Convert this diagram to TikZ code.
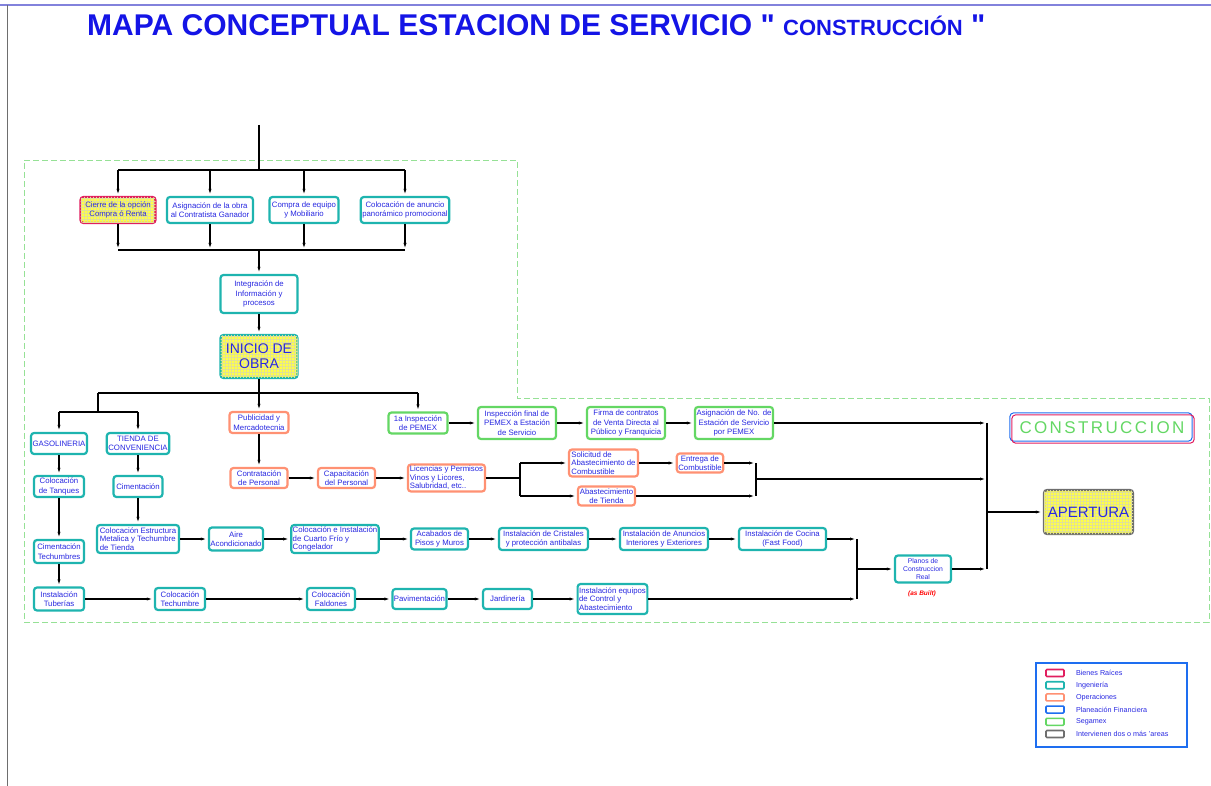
\documentclass[tikz,border=0pt]{standalone}
\usepackage{fontspec}
\setmainfont{Liberation Sans}
\newfontfamily\espaciada[LetterSpace=14]{Liberation Sans}
\newfontfamily\titular[Ligatures=TeXOff]{Liberation Sans}
\usetikzlibrary{positioning, arrows.meta, patterns}
\definecolor{ingcol}{RGB}{30,180,175}
\definecolor{biencol}{RGB}{225,30,95}
\definecolor{opcol}{RGB}{255,145,115}
\definecolor{plancol}{RGB}{30,110,240}
\definecolor{segcol}{RGB}{100,215,100}
\definecolor{doscol}{RGB}{110,110,110}
\definecolor{txtcol}{RGB}{40,40,225}
\definecolor{obracol}{RGB}{255,255,70}
\definecolor{gridcol}{RGB}{225,225,150}
\definecolor{zonacol}{RGB}{150,225,150}
\definecolor{titcol}{RGB}{20,20,230}
\definecolor{marcocol}{RGB}{130,130,220}
\tikzset{
  caja/.style={draw, rounded corners=3pt, line width=2.2pt, fill=white, text=txtcol,
    align=center, inner sep=1.5pt, font=\fontsize{7.8}{9.5}\selectfont},
  ing/.style={caja, draw=ingcol},
  bien/.style={caja, draw=biencol},
  oper/.style={caja, draw=opcol},
  seg/.style={caja, draw=segcol},
  obra/.style={fill=obracol, postaction={pattern=grid, pattern color=gridcol}},
  flecha/.style={-{Latex[length=7pt,width=3pt]}, line width=1.3pt},
  linea/.style={line width=1.3pt},
  zona/.style={draw=zonacol, dash pattern=on 6pt off 3pt, line width=0.8pt},
  muestra/.style={draw, line width=1.6pt, rounded corners=1pt, minimum width=18, minimum height=7, inner sep=0pt},
  leyenda/.style={text=txtcol, anchor=west, inner sep=0pt, font=\fontsize{7.2}{8}\selectfont},
}
\begin{document}
\begin{tikzpicture}[x=1pt, y=-1pt]
  \useasboundingbox (0,0) rectangle (1211,786);
  % marco y zona
  \draw[line width=2pt, marcocol] (0,5) -- (1211,5);
  \draw[line width=0.8pt, doscol] (7,5) -- (7,786);
  \draw[zona] (24,160) -- (517,160) -- (517,398) -- (1209,398) -- (1209,622) -- (24,622) -- cycle;

  \node[anchor=base west, text=titcol, inner sep=0pt, font=\titular\fontsize{30}{32}\bfseries] (titulo) at (87,36)
    {MAPA CONCEPTUAL ESTACION DE SERVICIO " {\fontsize{22}{24}\selectfont CONSTRUCCIÓN} "};

  % fila superior
  \node[bien, obra, minimum width=75, minimum height=26] (cierre) at (118,210) {Cierre de la opción\\Compra ó Renta};
  \node[ing, minimum width=86, minimum height=26] (asigobra) at (210,210) {Asignación de la obra\\al Contratista Ganador};
  \node[ing, minimum width=69, minimum height=26] (compra) at (304,210) {Compra de equipo\\y Mobiliario};
  \node[ing, minimum width=88, minimum height=26] (anuncio) at (405,210) {Colocación de anuncio\\panorámico promocional};

  \node[ing, minimum width=77, minimum height=38] (integ) at (259,294) {Integración de\\Información y\\procesos};
  \node[ing, obra, minimum width=77, minimum height=43, font=\fontsize{14}{15}\selectfont] (inicio) at (259,356.5) {INICIO DE\\OBRA};

  % gasolineria y tienda
  \node[ing, minimum width=55, minimum height=21] (gaso) at (59,443.5) {GASOLINERIA};
  \node[ing, minimum width=56, minimum height=21] (tienda) at (138,443.5) {TIENDA DE\\CONVENIENCIA};
  \node[ing, minimum width=50, minimum height=21] (tanques) at (59,486.5) {Colocación\\de Tanques};
  \node[ing, minimum width=49, minimum height=21] (ciment) at (138,486.5) {Cimentación};
  \node[ing, minimum width=50, minimum height=23] (cimtech) at (59,551.5) {Cimentación\\Techumbres};
  \node[ing, minimum width=82, minimum height=28, align=left, font=\fontsize{7.8}{8.5}\selectfont] (estruct) at (138,539) {Colocación Estructura\\Metalica y Techumbre\\de Tienda};
  \node[ing, minimum width=50, minimum height=23] (aire) at (236,539) {Aire\\Acondicionado};
  \node[ing, minimum width=86, minimum height=28, align=left, font=\fontsize{7.8}{8.5}\selectfont] (cuarto) at (335,539) {Colocación e Instalación\\de Cuarto Frío y\\Congelador};
  \node[ing, minimum width=57, minimum height=21] (acabados) at (439.5,539) {Acabados de\\Pisos y Muros};
  \node[ing, minimum width=89, minimum height=22] (cristales) at (543.5,539) {Instalación de Cristales\\y protección antibalas};
  \node[ing, minimum width=88, minimum height=22] (anuncios) at (664,539) {Instalación de Anuncios\\Interiores y Exteriores};
  \node[ing, minimum width=87, minimum height=22] (cocina) at (782.5,539) {Instalación de Cocina\\(Fast Food)};

  % fila inferior
  \node[ing, minimum width=50, minimum height=23] (tuberias) at (59,599) {Instalación\\Tuberías};
  \node[ing, minimum width=50, minimum height=22] (techumbre) at (180,599) {Colocación\\Techumbre};
  \node[ing, minimum width=48, minimum height=22] (faldones) at (331,599) {Colocación\\Faldones};
  \node[ing, minimum width=51, minimum height=20] (pavim) at (419.5,599) {Pavimentación};
  \node[ing, minimum width=49, minimum height=20] (jardin) at (507.5,599) {Jardinería};
  \node[ing, minimum width=69, minimum height=30, align=left, font=\fontsize{7.8}{8.5}\selectfont] (equipos) at (612.5,599) {Instalación equipos\\de Control y\\Abastecimiento};

  % operaciones
  \node[oper, minimum width=59, minimum height=21] (publi) at (259,422.5) {Publicidad y\\Mercadotecnia};
  \node[oper, minimum width=57, minimum height=20] (contrat) at (259,478) {Contratación\\de Personal};
  \node[oper, minimum width=57, minimum height=20] (capacit) at (346.5,478) {Capacitación\\del Personal};
  \node[oper, minimum width=77, minimum height=27, align=left, font=\fontsize{7.8}{8.5}\selectfont] (licencias) at (446.5,478) {Licencias y Permisos\\Vinos y Licores,\\Salubridad, etc..};
  \node[oper, minimum width=69, minimum height=27, align=left, font=\fontsize{7.8}{8.5}\selectfont] (solicitud) at (603.5,463) {Solicitud de\\Abastecimiento de\\Combustible};
  \node[oper, minimum width=46, minimum height=19] (entrega) at (700,463) {Entrega de\\Combustible};
  \node[oper, minimum width=57, minimum height=19] (abast) at (606.5,496) {Abastecimiento\\de Tienda};

  % segamex
  \node[seg, minimum width=59, minimum height=21] (insp1) at (418,423) {1a Inspección\\de PEMEX};
  \node[seg, minimum width=78, minimum height=32] (inspf) at (517,423) {Inspección final de\\PEMEX a Estación\\de Servicio};
  \node[seg, minimum width=78, minimum height=32] (firma) at (626,423) {Firma de contratos\\de Venta Directa al\\Público y Franquicia};
  \node[seg, minimum width=78, minimum height=32] (asigpemex) at (734,423) {Asignación de No. de\\Estación de Servicio\\por PEMEX};

  \node[ing, minimum width=56, minimum height=27, font=\fontsize{6.8}{8}\selectfont] (planos) at (923,569) {Planos de\\Construccion\\Real};
  \node[text=red, inner sep=0pt, font=\fontsize{6.5}{7}\bfseries\itshape] (asbuilt) at (922,594) {(as Built)};
  \node[caja, draw=doscol, obra, minimum width=89, minimum height=44, font=\fontsize{15}{16}\selectfont] (apertura) at (1088.5,512) {APERTURA};

  % etiqueta
  \node[minimum width=182, minimum height=28, inner sep=0pt, text=segcol, font=\espaciada\fontsize{17}{18}\selectfont] (etiqueta) at (1102,428) {CONSTRUCCION};
  \draw[plancol, line width=1pt, rounded corners=4pt] ([shift={(-1pt,1pt)}]etiqueta.north west) rectangle ([shift={(-1pt,1pt)}]etiqueta.south east);
  \draw[biencol, line width=1pt, rounded corners=4pt] ([shift={(1pt,-1pt)}]etiqueta.north west) rectangle ([shift={(1pt,-1pt)}]etiqueta.south east);

  % conectores superiores
  \coordinate (entrada) at (259,125);
  \coordinate (reparte) at (259,170);
  \coordinate (junta) at (259,250);
  \draw[linea] (entrada) -- (reparte);
  \draw[linea] (cierre.north |- reparte) -- (anuncio.north |- reparte);
  \draw[linea] (cierre.south |- junta) -- (anuncio.south |- junta);
  \foreach \nodo in {cierre, asigobra, compra, anuncio} {
    \draw[flecha] (\nodo.north |- reparte) -- (\nodo.north);
    \draw[flecha] (\nodo.south) -- (\nodo.south |- junta);
  }
  \draw[flecha] (junta) -- (integ.north);
  \draw[flecha] (integ) -- (inicio);

  \coordinate (ramal) at (259,393);
  \coordinate (ramalL) at (98,393);
  \coordinate (sub) at (98,412);
  \draw[linea] (inicio.south) -- (ramal);
  \draw[linea] (ramalL) -- (insp1.north |- ramal);
  \draw[linea] (ramalL) -- (sub);
  \draw[linea] (gaso.north |- sub) -- (tienda.north |- sub);
  \draw[flecha] (gaso.north |- sub) -- (gaso.north);
  \draw[flecha] (tienda.north |- sub) -- (tienda.north);
  \draw[flecha] (publi.north |- ramal) -- (publi.north);
  \draw[flecha] (insp1.north |- ramal) -- (insp1.north);

  % cadenas
  \draw[flecha] (gaso) -- (tanques);
  \draw[flecha] (tanques) -- (cimtech);
  \draw[flecha] (cimtech) -- (tuberias);
  \draw[flecha] (tienda) -- (ciment);
  \draw[flecha] (ciment) -- (estruct);
  \draw[flecha] (estruct) -- (aire);
  \draw[flecha] (aire) -- (cuarto);
  \draw[flecha] (cuarto) -- (acabados);
  \draw[flecha] (acabados) -- (cristales);
  \draw[flecha] (cristales) -- (anuncios);
  \draw[flecha] (anuncios) -- (cocina);
  \draw[flecha] (tuberias) -- (techumbre);
  \draw[flecha] (techumbre) -- (faldones);
  \draw[flecha] (faldones) -- (pavim);
  \draw[flecha] (pavim) -- (jardin);
  \draw[flecha] (jardin) -- (equipos);
  \draw[flecha] (publi) -- (contrat);
  \draw[flecha] (contrat) -- (capacit);
  \draw[flecha] (capacit) -- (licencias);
  \draw[flecha] (solicitud) -- (entrega);
  \draw[flecha] (insp1) -- (inspf);
  \draw[flecha] (inspf) -- (firma);
  \draw[flecha] (firma) -- (asigpemex);

  % uniones
  \coordinate (abreA) at (520,463);
  \coordinate (abreB) at (520,496);
  \coordinate (abreM) at (520,478);
  \coordinate (cierraA) at (756,463);
  \coordinate (cierraB) at (756,496);
  \coordinate (cierraM) at (756,479);
  \coordinate (uneA) at (857,539);
  \coordinate (uneB) at (857,599);
  \coordinate (uneM) at (857,569);
  \coordinate (finA) at (987,423);
  \coordinate (finB) at (987,479);
  \coordinate (finC) at (987,569);
  \coordinate (finM) at (987,512);
  \draw[linea] (licencias.east) -- (abreM);
  \draw[linea] (abreA) -- (abreB);
  \draw[flecha] (abreA) -- (solicitud.west);
  \draw[flecha] (abreB) -- (abast.west);
  \draw[flecha] (entrega.east) -- (cierraA);
  \draw[flecha] (abast.east) -- (cierraB);
  \draw[linea] (cierraA) -- (cierraB);
  \draw[flecha] (cierraM) -- (finB);
  \draw[flecha] (cocina.east) -- (uneA);
  \draw[flecha] (equipos.east) -- (uneB);
  \draw[linea] (uneA) -- (uneB);
  \draw[flecha] (uneM) -- (planos.west);
  \draw[flecha] (asigpemex.east) -- (finA);
  \draw[flecha] (planos.east) -- (finC);
  \draw[linea] (finA) -- (finC);
  \draw[flecha] (finM) -- (apertura.west);

  % leyenda
  \node[draw=plancol, line width=2pt, minimum width=151, minimum height=84] (leyendas) at (1111.5,705) {};
  \foreach \col/\nom [count=\i] in {biencol/Bienes Raíces, ingcol/Ingeniería, opcol/Operaciones,
      plancol/Planeación Financiera, segcol/Segamex, doscol/Intervienen dos o más 'areas} {
    \node[muestra, draw=\col] (muestra\i) at (1055,660.8+12.2*\i) {};
    \node[leyenda, right=11pt of muestra\i] (ley\i) {\nom};
  }
\end{tikzpicture}
\end{document}
